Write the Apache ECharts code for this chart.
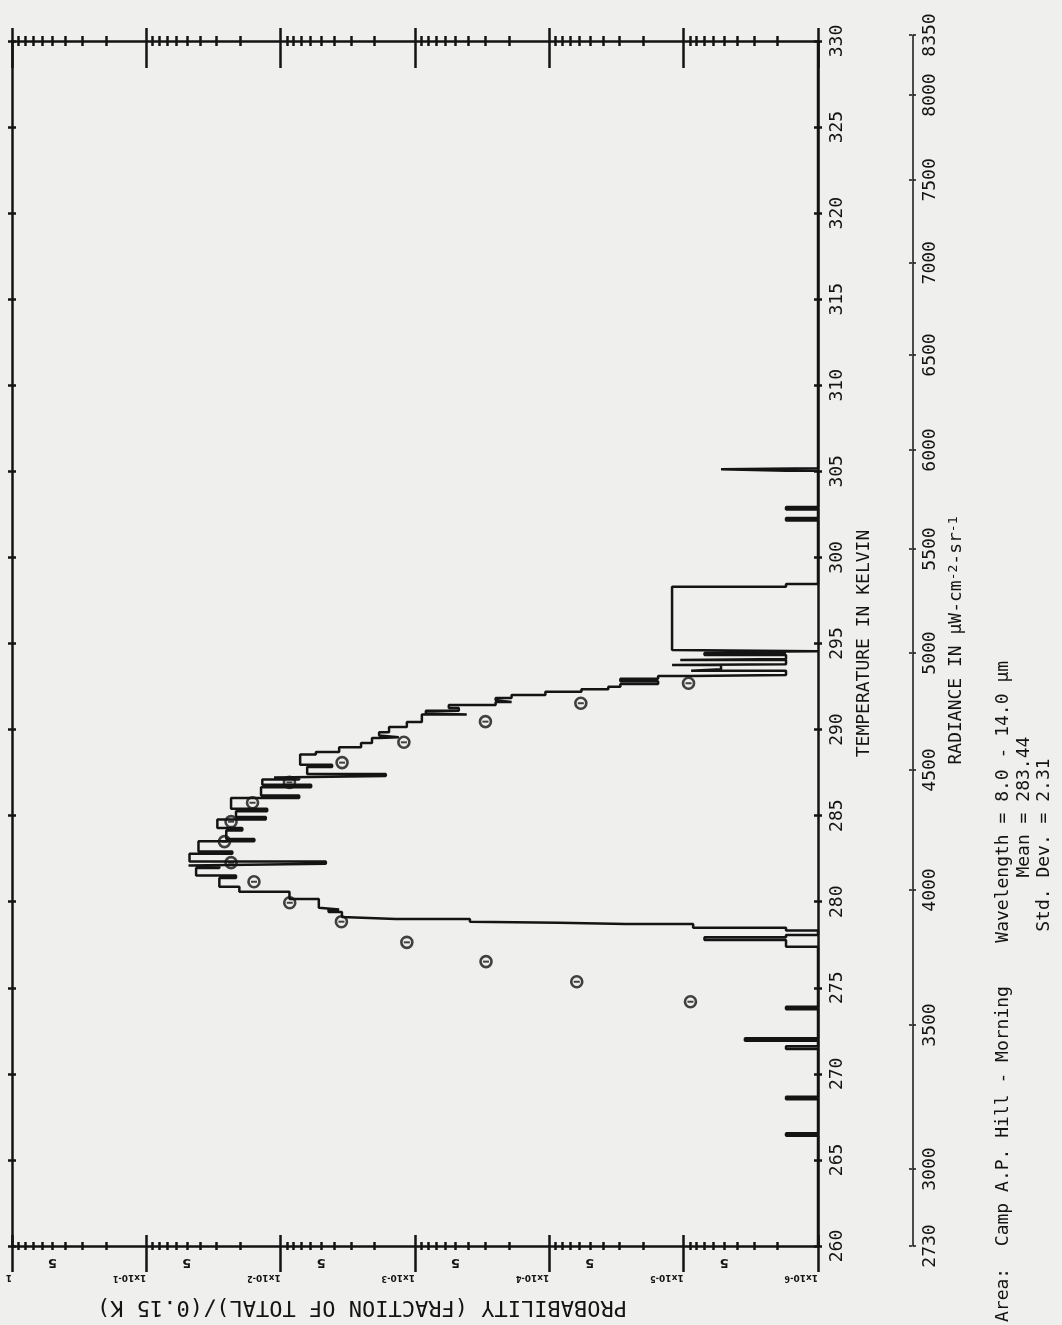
<!DOCTYPE html>
<html>
<head>
<meta charset="utf-8">
<script src="https://cdn.jsdelivr.net/npm/echarts@6/dist/echarts.min.js"></script>
<style>
html,body{margin:0;padding:0;background:#efefed;}
#chart{width:1062px;height:1325px;}
</style>
</head>
<body>
<div id="chart"></div>
<script>
// ---------------- DATA ----------------
// Histogram: temperature (K) where the step occurs, and probability after the step (0 = empty bin)
const stepTemp = [
  266.40, 266.55, 268.52, 268.67, 271.45, 271.60, 271.92, 272.07, 273.75, 273.90,
  277.39, 277.78, 277.93, 278.07, 278.33, 278.49, 278.71, 278.78, 278.84, 279.00,
  279.11, 279.40, 279.55, 279.65, 280.16, 280.58, 280.87,
  281.38, 281.52, 281.96, 282.10, 282.20, 282.34, 282.78, 282.92, 283.51, 283.65,
  284.14, 284.28, 284.78, 284.92, 285.26, 285.40, 286.03, 286.17, 286.65, 286.79,
  287.10, 287.22, 287.30, 287.42, 287.82, 287.96, 288.55, 288.69,
  288.97, 289.22, 289.51, 289.56, 289.66, 289.85, 290.15, 290.44,
  290.87, 290.95, 291.10, 291.25, 291.43, 291.60, 291.70, 291.83,
  292.01, 292.20, 292.34, 292.49, 292.65, 292.80, 292.95, 293.11, 293.17,
  293.42, 293.50, 293.75, 293.80, 294.04, 294.10, 294.33, 294.45, 294.50, 294.55,
  294.62, 298.30, 298.46, 302.15, 302.29, 302.78, 302.93, 305.04, 305.12, 305.18
];
const stepProb = [
  1.73e-6, 0, 1.73e-6, 0, 1.73e-6, 0, 3.5e-6, 0, 1.73e-6, 0,
  1.73e-6, 7.0e-6, 1.73e-6, 0, 1.73e-6, 8.5e-6, 2.7e-5, 8.5e-5, 3.9e-4, 1.39e-3,
  3.5e-3, 4.4e-3, 3.67e-3, 5.2e-3, 8.6e-3, 2.03e-2, 2.86e-2,
  2.15e-2, 4.26e-2, 2.86e-2, 4.85e-2, 4.61e-3, 4.77e-2, 2.29e-2, 4.09e-2, 1.57e-2, 2.54e-2,
  1.93e-2, 2.96e-2, 1.29e-2, 2.15e-2, 1.26e-2, 2.34e-2, 7.28e-3, 1.40e-2, 5.93e-3, 1.37e-2,
  7.28e-3, 1.12e-2, 1.65e-3, 6.35e-3, 4.14e-3, 7.16e-3, 5.47e-3, 3.67e-3,
  2.52e-3, 2.09e-3, 1.85e-3, 1.32e-3, 1.85e-3, 1.56e-3, 1.15e-3, 8.89e-4,
  4.12e-4, 8.30e-4, 4.72e-4, 5.60e-4, 2.51e-4, 1.91e-4, 2.51e-4, 1.91e-4,
  1.07e-4, 5.77e-5, 3.64e-5, 2.96e-5, 1.55e-5, 2.96e-5, 1.55e-5, 8.8e-6, 1.73e-6,
  8.8e-6, 5.27e-6, 1.22e-5, 1.73e-6, 1.06e-5, 1.73e-6, 7.0e-6, 1.73e-6, 7.0e-6, 0,
  1.22e-5, 1.73e-6, 0, 1.73e-6, 0, 1.73e-6, 0, 1.73e-6, 5.27e-6, 0
];
// Fitted normal points (circles)
const circleTemp = [274.19, 275.35, 276.52, 277.64, 278.84, 279.94, 281.16, 282.27, 283.49,
  284.65, 285.75, 286.93, 288.08, 289.26, 290.46, 291.53, 292.69];
const circleProb = [8.9e-6, 6.25e-5, 2.96e-4, 1.15e-3, 3.53e-3, 8.56e-3, 1.58e-2, 2.34e-2, 2.62e-2,
  2.34e-2, 1.62e-2, 8.6e-3, 3.49e-3, 1.21e-3, 2.99e-4, 5.83e-5, 9.2e-6];

// Axis ticks / labels
const decadeValues = [1, 1e-1, 1e-2, 1e-3, 1e-4, 1e-5, 1e-6];
const decadeLabels = ['1', '1x10{s|-1}', '1x10{s|-2}', '1x10{s|-3}', '1x10{s|-4}', '1x10{s|-5}', '1x10{s|-6}'];
const fiveValues = [5e-1, 5e-2, 5e-3, 5e-4, 5e-5, 5e-6];
const fiveLabel = '5';
const minorMantissas = [2, 3, 4, 5, 6, 7, 8, 9];
const tempMin = 260, tempMax = 330, tempStep = 5;
const radianceLabels = ['2730', '3000', '3500', '4000', '4500', '5000', '5500', '6000', '6500', '7000', '7500', '8000', '8350'];
const radianceTemp = [260.00, 264.47, 272.84, 280.68, 287.65, 294.45, 300.49, 306.24, 311.76, 317.12, 321.93, 326.86, 330.35];

const xTitle = 'PROBABILITY (FRACTION OF TOTAL)/(0.15 K)';
const yTitle = 'TEMPERATURE IN KELVIN';
const radTitle = 'RADIANCE IN μW-cm{s|-2}-sr{s|-1}';
const infoLine1 = 'Area:  Camp A.P. Hill - Morning    Wavelength = 8.0 - 14.0 μm';
const infoLine2 = 'Mean = 283.44';
const infoLine3 = 'Std. Dev. = 2.31';

// ---------------- BUILD ----------------
const FLOOR = 1e-6; // empty bins are drawn on the axis floor
const minorValues = [];
decadeValues.slice(1).forEach(d => minorMantissas.forEach(m => minorValues.push(+(m * d).toPrecision(3))));

const stepPts = [];
let cur = FLOOR;
stepPts.push([cur, tempMin]);
for (let i = 0; i < stepTemp.length; i++) {
  const p = stepProb[i] > 0 ? stepProb[i] : FLOOR;
  stepPts.push([cur, stepTemp[i]]);
  stepPts.push([p, stepTemp[i]]);
  cur = p;
}
stepPts.push([cur, tempMax]);
const circles = circleTemp.map((t, i) => [circleProb[i], t]);

const INK = '#141414';
const MONO = '"DejaVu Sans Mono", monospace';
const lineW = 2.5;
const CH = 10.84; // mono char advance at 18px

function probAxis(extra) {
  return Object.assign({
    type: 'log', logBase: 10, inverse: true, min: 1e-6, max: 1, gridIndex: 0,
    axisLine: { show: false, onZero: false },
    axisTick: { show: false },
    axisLabel: { show: false },
    splitLine: { show: false }, minorTick: { show: false }, minorSplitLine: { show: false }
  }, extra);
}
function tickStyle(len, inside, values, w) {
  return { show: true, inside: inside, length: len, customValues: values, lineStyle: { color: INK, width: w || 2.5 } };
}
function tempAxis(extra) {
  return Object.assign({
    type: 'value', min: tempMin, max: tempMax, interval: tempStep, gridIndex: 0,
    axisLine: { show: false, onZero: false },
    axisTick: { show: false }, axisLabel: { show: false }, splitLine: { show: false }
  }, extra);
}
const lineStyleAxis = { show: true, onZero: false, lineStyle: { color: INK, width: lineW } };
const radMax = radianceTemp[radianceTemp.length - 1];
function infoText(x, y, text) {
  return { type: 'text', x: x, y: y, rotation: Math.PI / 2,
    style: { text: text, fontFamily: MONO, fontSize: 18, fill: INK, align: 'left', verticalAlign: 'middle' } };
}

const option = {
  backgroundColor: '#efefed',
  animation: false,
  grid: [
    { left: 12, right: 244, top: 41, bottom: 79 },
    { left: 912, right: 149, top: 35, bottom: 79 }
  ],
  xAxis: [
    probAxis({
      position: 'bottom', axisLine: lineStyleAxis,
      axisTick: tickStyle(26, false, decadeValues),
      axisLabel: {
        show: true, customValues: decadeValues, rotate: 180, align: 'left', margin: 27,
        color: INK, fontFamily: 'DejaVu Sans', fontWeight: 'bold', fontSize: 9,
        formatter: function (v) { return decadeLabels[Math.round(-Math.log10(v))]; },
        rich: { s: { fontSize: 8, fontWeight: 'bold', fontFamily: 'DejaVu Sans', color: INK, verticalAlign: 'top', lineHeight: 8 } }
      },
      name: xTitle, nameLocation: 'middle', nameGap: 50, nameRotate: 180,
      nameTextStyle: { fontFamily: MONO, fontSize: 22, color: INK, padding: [0, 0, 0, 106] }
    }),
    probAxis({ position: 'bottom', axisTick: tickStyle(11, true, decadeValues) }),
    probAxis({
      position: 'bottom', axisTick: tickStyle(4, true, minorValues, 2.5),
      axisLabel: {
        show: true, customValues: fiveValues, rotate: 180, margin: 10,
        color: INK, fontFamily: 'DejaVu Sans', fontWeight: 'bold', fontSize: 13,
        formatter: function () { return fiveLabel; }
      }
    }),
    probAxis({ position: 'bottom', axisTick: tickStyle(4, false, minorValues, 2.5) }),
    probAxis({ position: 'top', axisLine: lineStyleAxis, axisTick: tickStyle(13, false, decadeValues) }),
    probAxis({ position: 'top', axisTick: tickStyle(27, true, decadeValues) }),
    probAxis({ position: 'top', axisTick: tickStyle(5, true, minorValues, 2.5) }),
    probAxis({ position: 'top', axisTick: tickStyle(5, false, minorValues, 2.5) }),
    { type: 'value', gridIndex: 1, show: false, min: 0, max: 1 }
  ],
  yAxis: [
    tempAxis({
      position: 'right', axisLine: lineStyleAxis,
      axisTick: { show: true, inside: false, length: 4, lineStyle: { color: INK, width: 2.5 } },
      axisLabel: { show: true, rotate: 90, margin: 10, color: INK, fontFamily: MONO, fontSize: 18 },
      name: yTitle, nameLocation: 'middle', nameRotate: 90, nameGap: 37,
      nameTextStyle: { fontFamily: MONO, fontSize: 18, color: INK }
    }),
    tempAxis({ position: 'right', axisTick: { show: true, inside: true, length: 4, lineStyle: { color: INK, width: 2.5 } } }),
    tempAxis({ position: 'left', axisLine: lineStyleAxis, axisTick: { show: true, inside: false, length: 4, lineStyle: { color: INK, width: 2.5 } } }),
    tempAxis({ position: 'left', axisTick: { show: true, inside: true, length: 4, lineStyle: { color: INK, width: 2.5 } } }),
    {
      type: 'value', gridIndex: 1, position: 'right', min: tempMin, max: radMax,
      axisLine: { show: true, onZero: false, lineStyle: { color: INK, width: 1.5 } },
      axisTick: { show: true, inside: false, length: 3, customValues: radianceTemp, lineStyle: { color: INK, width: 1.5 } },
      axisLabel: {
        show: true, customValues: radianceTemp, rotate: 90, margin: 8, color: INK, fontFamily: MONO, fontSize: 18,
        formatter: function (v) {
          let best = 0;
          radianceTemp.forEach((t, i) => { if (Math.abs(t - v) < Math.abs(radianceTemp[best] - v)) best = i; });
          return radianceLabels[best];
        }
      },
      splitLine: { show: false },
      name: radTitle, nameLocation: 'middle', nameRotate: 90, nameGap: 34,
      nameTextStyle: { fontFamily: MONO, fontSize: 18, color: INK, rich: { s: { fontFamily: MONO, fontSize: 13, color: INK, verticalAlign: 'top', lineHeight: 10 } } }
    },
    {
      type: 'value', gridIndex: 1, position: 'left', min: tempMin, max: radMax,
      axisLine: { show: false, onZero: false }, axisLabel: { show: false }, splitLine: { show: false },
      axisTick: { show: true, inside: false, length: 3, customValues: radianceTemp, lineStyle: { color: INK, width: 1.5 } }
    }
  ],
  series: [
    {
      type: 'line', name: 'histogram', xAxisIndex: 0, yAxisIndex: 0, data: stepPts,
      showSymbol: false, symbol: 'none', lineStyle: { color: INK, width: lineW }, clip: true, z: 3
    },
    {
      type: 'scatter', name: 'fit', xAxisIndex: 0, yAxisIndex: 0, data: circles,
      symbol: 'circle', symbolSize: 11,
      itemStyle: { color: 'rgba(0,0,0,0)', borderColor: INK, borderWidth: 2.6 }, z: 4
    },
    {
      type: 'scatter', name: 'fit-bar', xAxisIndex: 0, yAxisIndex: 0, data: circles,
      symbol: 'rect', symbolSize: [6, 2], itemStyle: { color: INK }, z: 4
    }
  ],
  graphic: [
    infoText(1003, 1322, infoLine1),
    infoText(1024, 1322 - 41 * CH, infoLine2),
    infoText(1044, 1322 - 36 * CH, infoLine3)
  ]
};

const chart = echarts.init(document.getElementById('chart'), null, { renderer: 'canvas' });
chart.setOption(option);
</script>
</body>
</html>
